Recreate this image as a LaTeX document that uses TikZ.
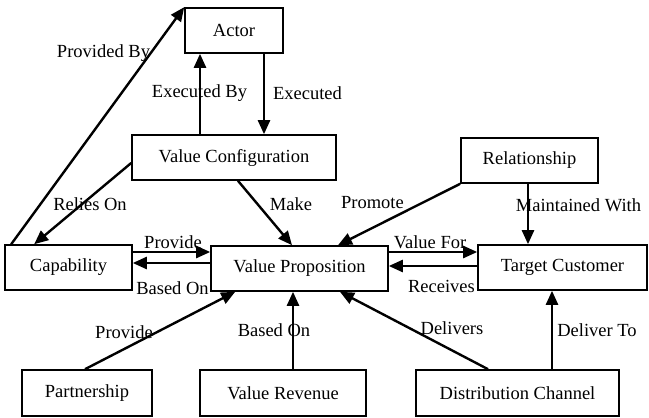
\documentclass[tikz,border=0pt]{standalone}
\usepackage{fontspec}
\setmainfont{Liberation Serif}
\usetikzlibrary{arrows.meta}
\begin{document}
\begin{tikzpicture}[x=1pt,y=-1pt,
  box/.style={draw,line width=1.6pt,inner sep=0pt,font=\fontsize{18.5}{22}\selectfont},
  lbl/.style={inner sep=0pt,font=\fontsize{18.5}{22}\selectfont},
  link/.style={line width=2.4pt,-{Triangle[length=14pt,width=12pt]}}]
\useasboundingbox (0,0) rectangle (649,418);
% concept boxes
\node[box,minimum width=98pt,minimum height=45pt]  (act)  at (234,30.5)   {Actor};
\node[box,minimum width=204pt,minimum height=45pt] (vc)   at (234,157.5)  {Value Configuration};
\node[box,minimum width=137pt,minimum height=45pt] (rel)  at (529.5,160.5){Relationship};
\node[box,minimum width=127pt,minimum height=45pt] (cap)  at (68.5,267.5) {Capability};
\node[box,minimum width=177pt,minimum height=45pt] (vp)   at (299.5,268.5){Value Proposition};
\node[box,minimum width=169pt,minimum height=45pt] (tc)   at (562.5,267.5){Target Customer};
\node[box,minimum width=130pt,minimum height=46pt] (part) at (87,393)     {Partnership};
\node[box,minimum width=166pt,minimum height=46pt] (vr)   at (283,393)    {Value Revenue};
\node[box,minimum width=203pt,minimum height=46pt] (dc)   at (517.5,393)  {Distribution Channel};
% relation labels
\node[lbl] (lprov)  at (103.5,53) {Provided By};
\node[lbl] (lexby)  at (199.5,93) {Executed By};
\node[lbl] (lex)    at (307.5,93) {Executed};
\node[lbl] (lrel)   at (90,204)   {Relies On};
\node[lbl] (lmake)  at (291,204)  {Make};
\node[lbl] (lprom)  at (372.5,203){Promote};
\node[lbl] (lmaint) at (578.5,205){Maintained With};
\node[lbl] (lpv1)   at (173,242)  {Provide};
\node[lbl] (lbo1)   at (172.5,288){Based On};
\node[lbl] (lvf)    at (430,242)  {Value For};
\node[lbl] (lrec)   at (441.5,286){Receives};
\node[lbl] (lpv2)   at (124,332)  {Provide};
\node[lbl] (lbo2)   at (274,330)  {Based On};
\node[lbl] (ldel)   at (452,328)  {Delivers};
\node[lbl] (ldto)   at (597,330)  {Deliver To};
% relations
\draw[link] ([xshift=7pt]cap.north west) -- (act.north west);
\draw[link] ([xshift=-34pt]vc.north) -- ([xshift=-34pt]act.south);
\draw[link] ([xshift=30pt]act.south) -- ([xshift=30pt]vc.north);
\draw[link] ([yshift=-5.5pt]vc.west) -- ([xshift=30pt]cap.north west);
\draw[link] ([xshift=4pt]vc.south) -- ([xshift=-7.5pt]vp.north);
\draw[link] (rel.south west) -- ([xshift=38.5pt]vp.north);
\draw[link] ([xshift=-1.5pt]rel.south) -- ([xshift=-34.5pt]tc.north);
\draw[link] ([yshift=15.5pt]cap.east) -- ([yshift=16.5pt]vp.west);
\draw[link] ([yshift=5.5pt]vp.west) -- ([yshift=4.5pt]cap.east);
\draw[link] ([yshift=16.5pt]vp.east) -- ([yshift=15.5pt]tc.west);
\draw[link] ([yshift=1.5pt]tc.west) -- ([yshift=2.5pt]vp.east);
\draw[link] ([xshift=-2pt]part.north) -- ([xshift=25pt]vp.south west);
\draw[link] ([xshift=10pt]vr.north) -- ([xshift=-6.5pt]vp.south);
\draw[link] ([xshift=-29.5pt]dc.north) -- ([xshift=40.5pt]vp.south);
\draw[link] ([xshift=34.5pt]dc.north) -- ([xshift=-10.5pt]tc.south);
\end{tikzpicture}
\end{document}
